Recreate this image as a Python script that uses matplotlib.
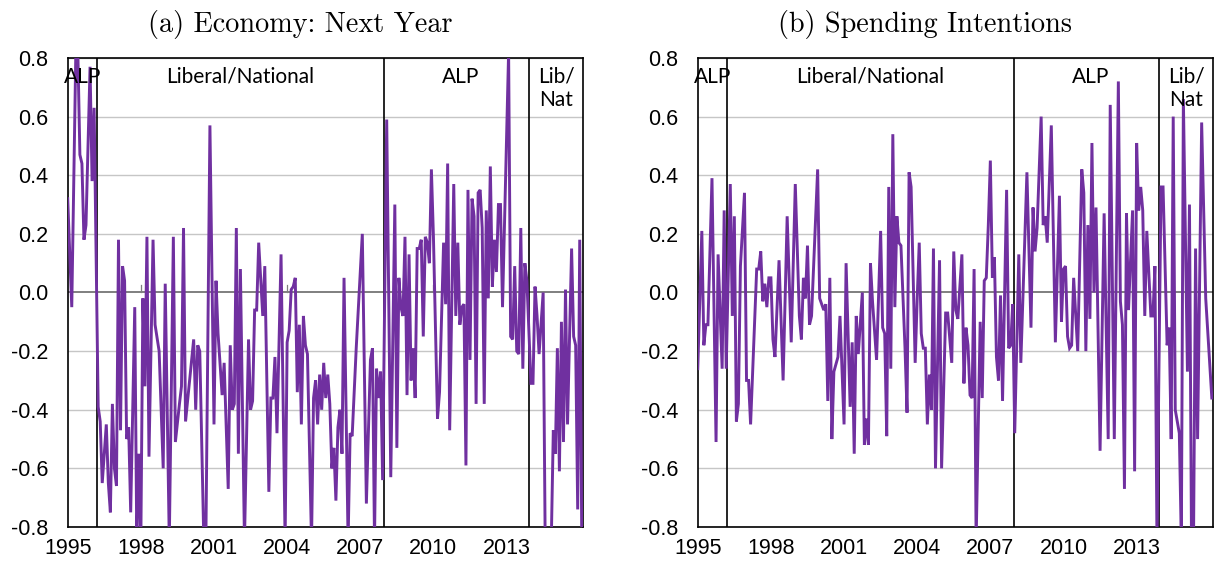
import matplotlib
matplotlib.use("Agg")
import matplotlib.pyplot as plt
import numpy as np

# x positions are months since January 1995
econ_month = [0, 2, 4, 5, 6, 7, 8, 9, 11, 12, 13, 15, 16, 17, 19, 20, 21, 22, 23, 24, 25, 26, 27, 28, 29, 30, 31,
              33, 34, 35, 36, 37, 38, 39, 40, 42, 43, 45, 47, 48, 50, 52, 53, 55, 56, 57, 58, 60, 62, 63, 64, 65,
              67, 68, 70, 72, 73, 74, 76, 77, 79, 80, 81, 82, 83, 84, 85, 86, 87, 89, 90, 91, 92, 93, 94, 96, 97,
              99, 100, 101, 102, 103, 105, 107, 108, 109, 110, 111, 112, 113, 114, 115, 116, 117, 118, 120, 121,
              122, 123, 124, 125, 126, 127, 128, 129, 130, 131, 132, 133, 134, 135, 136, 138, 139, 140, 142, 145,
              147, 149, 150, 151, 152, 153, 154, 155, 157, 159, 161, 162, 163, 164, 165, 166, 167, 168, 169, 170,
              171, 172, 173, 174, 175, 176, 177, 178, 179, 180, 182, 183, 185, 186, 187, 188, 190, 191, 192, 193,
              194, 195, 196, 197, 198, 199, 200, 201, 202, 203, 204, 205, 206, 207, 208, 209, 210, 211, 212, 213,
              214, 217, 218, 219, 220, 221, 222, 223, 224, 225, 226, 228, 229, 230, 231, 232, 234, 235, 238, 239,
              240, 241, 242, 243, 244, 245, 246, 248, 249, 250, 251, 252, 253]
econ_value = [0.32, -0.05, 0.82, 0.82, 0.47, 0.44, 0.18, 0.23, 0.77, 0.38, 0.63, -0.39, -0.44, -0.65, -0.45, -0.65,
              -0.75, -0.38, -0.6, -0.66, 0.18, -0.47, 0.09, 0.04, -0.5, -0.46, -0.75,
              -0.05, -0.85, -0.55, -0.85, -0.02, -0.32, 0.19, -0.56, 0.18, -0.11, -0.2, -0.6, 0.03, -0.85, 0.19,
              -0.51, -0.38, -0.32, 0.22, -0.44, -0.3, -0.16, -0.4, -0.18, -0.2,
              -0.85, -0.85, 0.57, -0.45, 0.04, -0.14, -0.35, -0.24, -0.67, -0.18, -0.4, -0.38, 0.22, -0.55, 0.08,
              -0.38, -0.85, -0.16, -0.4, -0.37, -0.06, -0.06, 0.17, -0.08, 0.09,
              -0.68, -0.36, -0.36, -0.22, -0.48, 0.13, -0.85, -0.17, -0.13, 0.01, 0.02, 0.05, -0.34, -0.11, -0.45,
              -0.08, -0.18, -0.21, -0.85, -0.36,
              -0.3, -0.45, -0.28, -0.4, -0.24, -0.36, -0.28, -0.38, -0.6, -0.53, -0.71, -0.46, -0.4, -0.55, 0.05,
              -0.85, -0.48, -0.49, -0.19, 0.2,
              -0.72, -0.23, -0.19, -0.85, -0.26, -0.36, -0.27, -0.64, 0.59, -0.63, 0.3, -0.53, 0.05, -0.05, -0.08,
              0.19, -0.35, 0.13, -0.3, -0.19,
              -0.36, 0.15, 0.15, 0.18, -0.15, 0.19, 0.17, 0.1, 0.42, 0.19, -0.43, -0.34, 0.17, -0.04, 0.44, -0.47,
              0.37, -0.08, 0.17, -0.11,
              -0.05, -0.04, -0.59, 0.35, -0.23, 0.32, 0.26, -0.38, 0.34, 0.35, 0.22, -0.38, 0.28, -0.02, 0.43,
              0.02, 0.18, 0.07, 0.3, 0.3,
              -0.05, 0.82, -0.15, -0.16, 0.09, -0.2, -0.21, 0.22, -0.26, 0.1, 0.04, -0.31, -0.31, 0.02, -0.08,
              -0.21, 0.0, -0.85, -0.85, -0.47,
              -0.55, -0.19, -0.61, -0.1, -0.51, 0.01, -0.45, 0.15, -0.15, -0.18, -0.74, 0.18, -0.85]

spend_month = [0, 2, 3, 4, 5, 7, 9, 10, 12, 13, 14, 16, 17, 18, 19, 20, 21, 23, 24, 25, 26, 29, 30, 31, 32, 33, 34,
               35, 36, 37, 38, 40, 42, 44, 46, 48, 50, 51, 52, 53, 54, 55, 56, 59, 60, 62, 63, 64, 65, 66, 67, 69,
               70, 72, 73, 75, 76, 77, 78, 79, 81, 82, 83, 84, 85, 86, 88, 90, 91, 92, 93, 94, 95, 96, 97, 98, 99,
               100, 102, 103, 104, 105, 107, 108, 109, 110, 111, 112, 113, 114, 115, 116, 117, 119, 120, 122, 123,
               125, 126, 127, 128, 130, 131, 132, 133, 134, 135, 136, 137, 139, 140, 141, 142, 143, 144, 145, 146,
               147, 148, 149, 150, 152, 153, 154, 155, 156, 158, 159, 162, 164, 165, 166, 167, 169, 170, 171, 172,
               174, 176, 178, 179, 180, 181, 182, 183, 184, 185, 187, 189, 190, 191, 192, 193, 194, 195, 196, 198,
               200, 202, 203, 205, 207, 208, 209, 210, 211, 212, 214, 215, 216, 217, 218, 219, 220, 221, 223, 224,
               225, 226, 228, 229, 231, 232, 233, 234, 235, 237, 238, 239, 241, 242, 243, 244, 245, 246, 248, 250,
               253]
spend_value = [-0.26, 0.21, -0.18, -0.11, -0.11, 0.39, -0.51, 0.13, -0.26, 0.28, -0.26, 0.37, -0.08, 0.26, -0.44,
               -0.38, 0.09, 0.34, -0.3, -0.3, -0.45, 0.08, 0.08, 0.14, -0.03, 0.03, -0.05,
               0.05, 0.05, -0.16, -0.22, 0.11, -0.3, 0.26, -0.17, 0.37, -0.08, -0.16, 0.05, -0.02, 0.16, -0.11,
               -0.08, 0.42, -0.02, -0.06, -0.04, -0.37, 0.05, -0.5, -0.27, -0.22,
               -0.08, -0.45, 0.1, -0.39, -0.17, -0.55, -0.08, -0.21, 0.0, -0.52, -0.43, -0.52, 0.1, -0.03, -0.23,
               0.21, -0.12, -0.14, -0.49, 0.36, -0.26, 0.54, -0.05, 0.26, 0.17,
               0.16, -0.19, -0.41, 0.41, 0.36, -0.24, -0.02, 0.17, -0.14, -0.19, -0.19, -0.45, -0.28, -0.4, 0.15,
               -0.6, 0.11, -0.6, -0.07, -0.07,
               -0.24, 0.14, -0.06, -0.09, 0.13, -0.31, -0.12, -0.18, -0.35, -0.36, 0.08, -0.85, -0.1, -0.36, 0.04,
               0.05, 0.23, 0.45, 0.05, 0.12,
               -0.22, -0.3, -0.01, -0.37, 0.35, -0.19, -0.18, -0.04, -0.48, 0.13, -0.24, 0.41, -0.12, 0.29, 0.14,
               0.22, 0.6, 0.23, 0.26, 0.17,
               0.57, -0.17, 0.33, -0.1, 0.08, 0.09, -0.15, -0.19, -0.18, 0.05, -0.2, 0.42, 0.34, -0.2, 0.23, -0.09,
               0.51, 0.0, 0.29, -0.54,
               0.27, -0.5, 0.64, -0.5, 0.72, -0.03, -0.11, -0.67, 0.27, -0.06, 0.28, -0.61, 0.51, 0.28, 0.36, 0.28,
               -0.08, 0.21, -0.08, -0.08,
               0.09, -0.85, 0.36, 0.36, -0.18, -0.12, -0.5, 0.6, -0.4, -0.48, -0.85, 0.66, -0.27, 0.3, -0.85, -0.85,
               0.15, -0.5, 0.58, -0.02,
               -0.36]

year_ticks = [1995, 1998, 2001, 2004, 2007, 2010, 2013]
y_ticks = [-0.8, -0.6, -0.4, -0.2, 0.0, 0.2, 0.4, 0.6, 0.8]
govt_changes = [14.3, 155.8, 227.0]          # months since Jan 1995
govt_labels = ["ALP", "Liberal/National", "ALP", "Lib/\nNat"]
govt_label_pos = [7.5, 85.0, 193.5, 240.5]
titles = ["(a) Economy: Next Year", "(b) Spending Intentions"]
title_x = [0.451, 0.441]

purple = "#7030A0"

fig = plt.figure(figsize=(12.22, 5.69), dpi=100)
axes = [fig.add_axes([0.0554, 0.0738, 0.4215, 0.8243]),
        fig.add_axes([0.5710, 0.0738, 0.4215, 0.8243])]

series = [(econ_month, econ_value), (spend_month, spend_value)]

for ax, (mx, vy), title, tx in zip(axes, series, titles, title_x):
    for yv in y_ticks:
        if yv == 0.0:
            continue
        ax.axhline(yv, color="#c6c6c6", lw=1.0, zorder=1)
    ax.axhline(0.0, color="#7f7f7f", lw=1.4, zorder=2)
    for tk in [36, 108, 180]:
        ax.plot([tk, tk], [0.0, 0.025], color="#7f7f7f", lw=0.9, zorder=2)
    for gx in govt_changes:
        ax.axvline(gx, color="black", lw=1.2, zorder=3)
    ax.plot(mx, vy, color=purple, lw=2.1, zorder=4, solid_joinstyle="miter")
    for lab, lx in zip(govt_labels, govt_label_pos):
        ax.text(lx, 0.77, lab, ha="center", va="top", fontsize=15,
                family=["Lato", "DejaVu Sans"], color="black", linespacing=1.2, zorder=5)
    ax.set_xlim(0, 253.5)
    ax.set_ylim(-0.8, 0.8)
    ax.set_xticks([(y - 1995) * 12 for y in year_ticks])
    ax.set_xticklabels([str(y) for y in year_ticks])
    ax.set_yticks(y_ticks)
    ax.set_yticklabels(["%.1f" % v if v != 0 else "0.0" for v in y_ticks])
    ax.tick_params(axis="both", length=0, labelsize=15.5)
    ax.tick_params(axis="y", pad=14)
    ax.tick_params(axis="x", pad=8)
    for lbl in ax.get_xticklabels() + ax.get_yticklabels():
        lbl.set_family("Liberation Sans")
    for sp in ax.spines.values():
        sp.set_color("black")
        sp.set_linewidth(1.2)
    ax.set_title(title, fontsize=20.3, family="cmr10", pad=19, x=tx)

fig.savefig("out.png", dpi=100)
